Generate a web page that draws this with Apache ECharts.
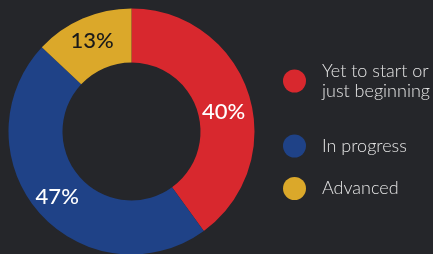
<!DOCTYPE html>
<html>
<head>
<meta charset="utf-8">
<script src="https://cdn.jsdelivr.net/npm/echarts@6/dist/echarts.min.js"></script>
<style>
  html, body { margin: 0; padding: 0; background: #25262a; }
  #chart { width: 433px; height: 254px; }
</style>
</head>
<body>
<div id="chart"></div>
<script>
  // data
  var categories = ['Yet to start or\njust beginning', 'In progress', 'Advanced'];
  var values = [40, 47, 13];
  var colors = ['#d8282e', '#1f4287', '#dba82a'];
  var labelColors = ['#ffffff', '#ffffff', '#1a1a1a'];

  var chart = echarts.init(document.getElementById('chart'));

  var legendTops = [51, 134.5, 177];
  var legends = categories.map(function (name, i) {
    return {
      orient: 'vertical',
      left: 283,
      top: legendTops[i],
      padding: 0,
      itemWidth: 23,
      itemHeight: 23,
      icon: 'circle',
      selectedMode: false,
      data: [{
        name: name,
        itemStyle: { color: colors[i] },
        textStyle: {
          color: '#e6e6e6',
          fontFamily: 'Lato',
          fontSize: 18,
          fontWeight: 300,
          lineHeight: 20,
          padding: i === 0 ? [20, 0, 0, 11] : [0, 0, 0, 11]
        }
      }]
    };
  });

  chart.setOption({
    backgroundColor: '#25262a',
    animation: false,
    legend: legends,
    series: [
      {
        name: 'progress',
        type: 'pie',
        center: [131.5, 131.5],
        radius: [69, 123],
        startAngle: 90,
        clockwise: true,
        avoidLabelOverlap: false,
        label: {
          show: true,
          position: 'inside',
          formatter: '{c}%',
          fontFamily: 'Lato',
          fontSize: 22,
          fontWeight: 500
        },
        labelLine: { show: false },
        labelLayout: function (params) {
          // the 40% label sits a bit lower than the slice middle
          if (params.dataIndex === 0) {
            return { dx: -2, dy: 11 };
          }
          return {};
        },
        emphasis: { disabled: true },
        data: categories.map(function (name, i) {
          return {
            name: name,
            value: values[i],
            itemStyle: { color: colors[i] },
            label: { color: labelColors[i] }
          };
        })
      }
    ]
  });
</script>
</body>
</html>
